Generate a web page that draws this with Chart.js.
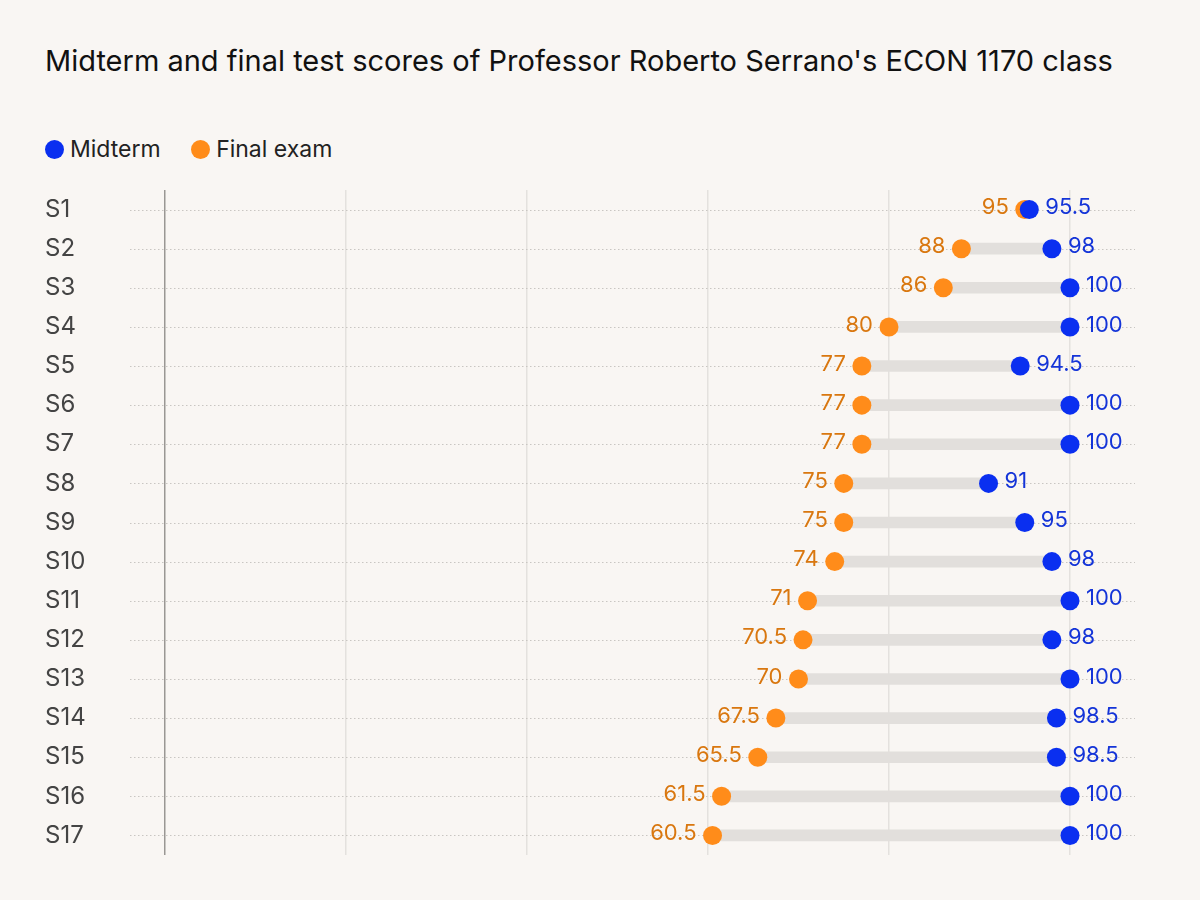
<!DOCTYPE html>
<html>
<head>
<meta charset="utf-8">
<script src="https://cdn.jsdelivr.net/npm/chart.js@4"></script>
<style>
  body { margin: 0; background: #f9f6f3; font-family: Inter, sans-serif; width: 1200px; height: 900px; overflow: hidden; position: relative; }
  h1 { position: absolute; left: 45px; top: 42px; margin: 0; font-size: 29px; font-weight: 400; line-height: 37px; color: #111; width: 1080px; }
  .legend { position: absolute; left: 45px; top: 135px; font-size: 23px; color: #222; }
  .legend span.dot { display: inline-block; width: 19px; height: 19px; border-radius: 50%; vertical-align: -2px; margin-right: 6px; }
  .legend span.item { margin-right: 24px; }
  #wrap { position: absolute; left: 0; top: 180px; width: 1200px; height: 700px; }
</style>
</head>
<body>
<h1>Midterm and final test scores of Professor Roberto Serrano's ECON 1170 class</h1>
<div class="legend">
  <span class="item"><span class="dot" style="background:#0a2ff0"></span>Midterm</span>
  <span class="item"><span class="dot" style="background:#ff8c1a"></span>Final exam</span>
</div>
<div id="wrap"><canvas id="chart"></canvas></div>
<script>
const students = ['S1','S2','S3','S4','S5','S6','S7','S8','S9','S10','S11','S12','S13','S14','S15','S16','S17']
const midterm = [95.5, 98, 100, 100, 94.5, 100, 100, 91, 95, 98, 100, 98, 100, 98.5, 98.5, 100, 100]
const finalExam = [95, 88, 86, 80, 77, 77, 77, 75, 75, 74, 71, 70.5, 70, 67.5, 65.5, 61.5, 60.5]

const BLUE = '#0a2ff0'
const ORANGE = '#ff8c1a'

const labelsPlugin = {
  id: 'labels',
  beforeDatasetsDraw(chart) {
    const { ctx, scales: { y } } = chart
    ctx.save()
    ctx.strokeStyle = '#c9c6c2'
    ctx.lineWidth = 1
    ctx.setLineDash([1.5, 2.5])
    students.forEach((s, i) => {
      const py = Math.round(y.getPixelForValue(i)) + 0.5
      ctx.beginPath()
      ctx.moveTo(130, py)
      ctx.lineTo(1135, py)
      ctx.stroke()
    })
    ctx.restore()
  },
  afterDatasetsDraw(chart) {
    const { ctx, scales: { x, y } } = chart
    ctx.save()
    ctx.textBaseline = 'middle'
    students.forEach((s, i) => {
      const py = y.getPixelForValue(i)
      ctx.font = '24px Inter, sans-serif'
      ctx.fillStyle = '#444'
      ctx.textAlign = 'left'
      ctx.fillText(s, 45, py)
      ctx.font = '22px Inter, sans-serif'
      ctx.fillStyle = '#d9770f'
      ctx.textAlign = 'right'
      ctx.fillText(String(finalExam[i]), x.getPixelForValue(finalExam[i]) - 16, py - 2)
      ctx.fillStyle = '#1434d8'
      ctx.textAlign = 'left'
      ctx.fillText(String(midterm[i]), x.getPixelForValue(midterm[i]) + 16, py - 2)
    })
    ctx.restore()
  }
}

new Chart(document.querySelector('#chart'), {
  type: 'bar',
  data: {
    labels: students,
    datasets: [
      { type: 'line', label: 'Final exam', data: finalExam, showLine: false, clip: false, pointRadius: 9.5, pointBackgroundColor: ORANGE, pointBorderWidth: 0, order: 1 },
      { type: 'line', label: 'Midterm', data: midterm, showLine: false, clip: false, pointRadius: 9.5, pointBackgroundColor: BLUE, pointBorderWidth: 0, order: 0 },
      { label: 'gap', data: students.map((s, i) => [finalExam[i], midterm[i]]), backgroundColor: '#e2dfdc', barThickness: 11, order: 2 }
    ]
  },
  plugins: [labelsPlugin],
  options: {
    indexAxis: 'y',
    responsive: true,
    maintainAspectRatio: false,
    animation: false,
    layout: { padding: { left: 157, right: 130, top: 10, bottom: 25 } },
    plugins: { legend: { display: false }, tooltip: { enabled: false } },
    scales: {
      x: {
        min: 0, max: 100,
        ticks: { display: false, stepSize: 20 },
        border: { display: false },
        grid: { color: ctx => ctx.tick.value === 0 ? '#9a9794' : '#e4e1de', lineWidth: 1.5, drawTicks: false }
      },
      y: {
        ticks: { display: false },
        border: { display: false },
        grid: { display: false }
      }
    }
  }
})
</script>
</body>
</html>
